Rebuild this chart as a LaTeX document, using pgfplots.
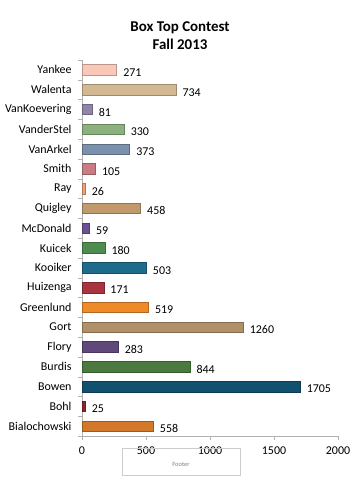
\documentclass[border=0pt]{standalone}
\usepackage{pgfplots}
\pgfplotsset{compat=1.18}
\usepackage{fontspec}
\setmainfont{Carlito}
\definecolor{cYankee}{HTML}{FAC8B8}
\definecolor{cWalenta}{HTML}{D4B894}
\definecolor{cVanKoevering}{HTML}{9286A8}
\definecolor{cVanderStel}{HTML}{8CB07E}
\definecolor{cVanArkel}{HTML}{7A90AC}
\definecolor{cSmith}{HTML}{C87C84}
\definecolor{cRay}{HTML}{F2A070}
\definecolor{cQuigley}{HTML}{C09A6A}
\definecolor{cMcDonald}{HTML}{6C5290}
\definecolor{cKuicek}{HTML}{4F8C50}
\definecolor{cKooiker}{HTML}{1E6B8C}
\definecolor{cHuizenga}{HTML}{A83440}
\definecolor{cGreenlund}{HTML}{EE8A2A}
\definecolor{cGort}{HTML}{B09068}
\definecolor{cFlory}{HTML}{61487A}
\definecolor{cBurdis}{HTML}{4A7A40}
\definecolor{cBowen}{HTML}{11506E}
\definecolor{cBohl}{HTML}{8F2430}
\definecolor{cBialochowski}{HTML}{D27828}
\newcommand\bbar[3]{\addplot[fill=#1, draw=#1!75!black, line width=0.5pt] coordinates {(#3,#2)};}
\begin{document}
\begin{tikzpicture}
\path[use as bounding box] (0,0) rectangle (363bp,482bp);
\node[font=\bfseries\fontsize{15}{18}\selectfont, align=center] at (180bp,482bp-36bp) {Box Top Contest\\Fall 2013};
\begin{axis}[
  at={(82bp,46bp)}, anchor=south west,
  scale only axis, width=256bp, height=376bp,
  xmin=0, xmax=2000, ymin=-0.5, ymax=18.5,
  xbar, bar width=10.5bp, bar shift=0pt,
  axis x line*=bottom, axis y line*=left,
  axis line style={gray!60},
  xtick={0,500,1000,1500,2000},
  ytick={0,...,18},
  yticklabels={Bialochowski,Bohl,Bowen,Burdis,Flory,Gort,Greenlund,Huizenga,Kooiker,Kuicek,McDonald,Quigley,Ray,Smith,VanArkel,VanderStel,VanKoevering,Walenta,Yankee},
  minor ytick={-0.5,0.5,...,18.5},
  major y tick style={draw=none},
  minor y tick style={gray!60},
  minor tick length=4bp,
  major x tick style={gray!60},
  major tick length=4bp,
  xtick align=outside, ytick align=outside,
  yticklabel style={font=\fontsize{12}{14}\selectfont, xshift=-3bp},
  xticklabel style={font=\fontsize{12}{14}\selectfont, yshift=-3bp},
  /pgf/number format/assume math mode=true,
  /pgf/number format/1000 sep={},
  nodes near coords,
  nodes near coords style={font=\fontsize{12}{14}\selectfont, anchor=west, xshift=3bp, yshift=-2.5bp, text=black},
  clip=false,
]
\bbar{cBialochowski}{0}{558}
\bbar{cBohl}{1}{25}
\bbar{cBowen}{2}{1705}
\bbar{cBurdis}{3}{844}
\bbar{cFlory}{4}{283}
\bbar{cGort}{5}{1260}
\bbar{cGreenlund}{6}{519}
\bbar{cHuizenga}{7}{171}
\bbar{cKooiker}{8}{503}
\bbar{cKuicek}{9}{180}
\bbar{cMcDonald}{10}{59}
\bbar{cQuigley}{11}{458}
\bbar{cRay}{12}{26}
\bbar{cSmith}{13}{105}
\bbar{cVanArkel}{14}{373}
\bbar{cVanderStel}{15}{330}
\bbar{cVanKoevering}{16}{81}
\bbar{cWalenta}{17}{734}
\bbar{cYankee}{18}{271}
\end{axis}
\draw[gray!40] (122bp,482bp-448bp) rectangle (240bp,482bp-475bp);
\node[font=\fontsize{6.5}{7}\selectfont, text=gray] at (181bp,482bp-464bp) {Footer};
\end{tikzpicture}
\end{document}
